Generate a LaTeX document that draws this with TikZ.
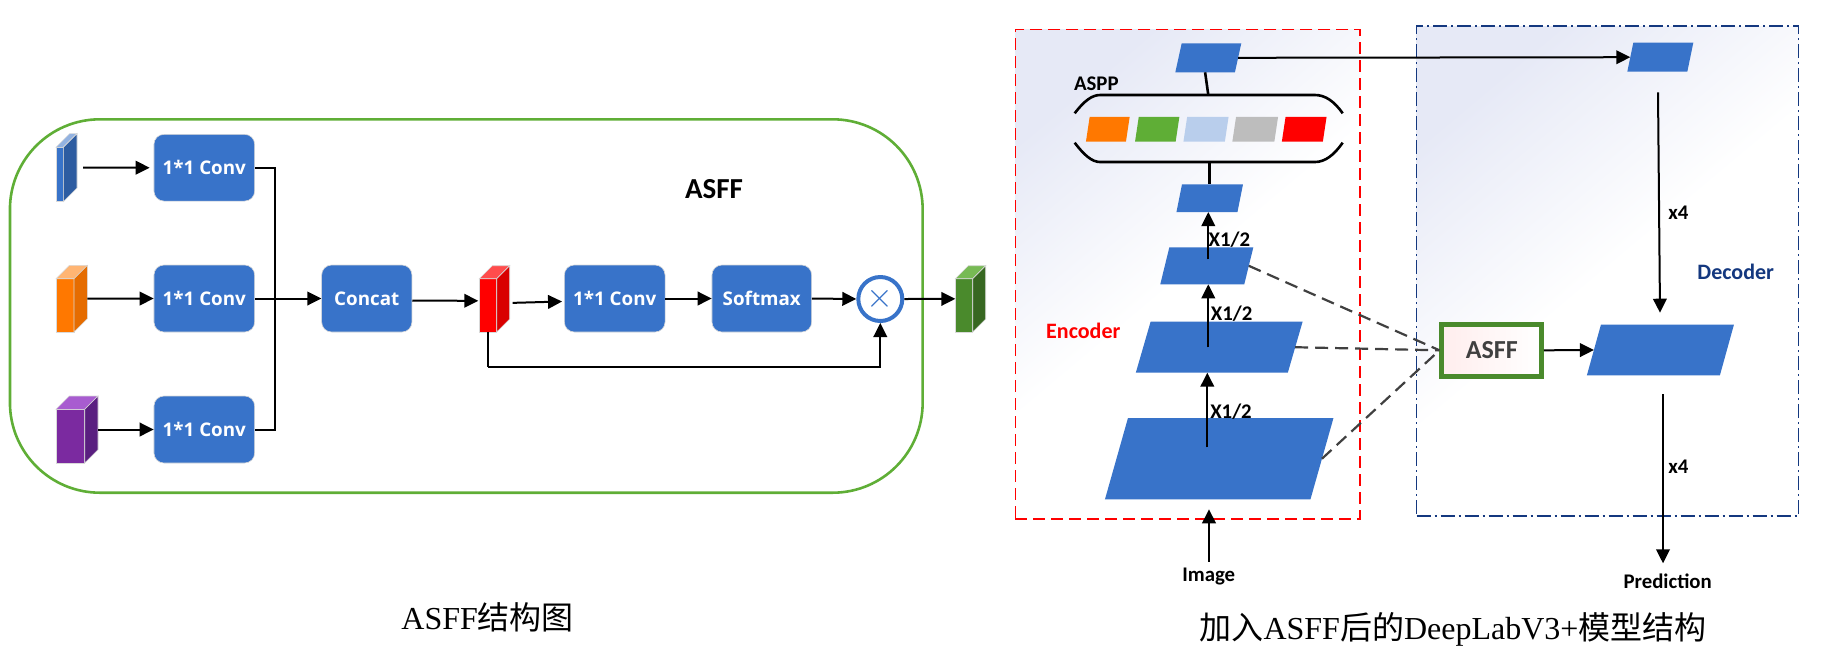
\documentclass[tikz,border=0pt]{standalone}
\usepackage{fontspec}
\setmainfont{Liberation Serif}
\newfontfamily\labelfont{Carlito}
\newfontfamily\boxfont{Open Sans}
\newfontfamily\cjk{Noto Sans CJK SC}
\usetikzlibrary{arrows.meta}

\definecolor{boxblue}{HTML}{3873C9}
\definecolor{framegreen}{HTML}{5FAE36}
\definecolor{asffgreen}{HTML}{4A8A2C}
\definecolor{bgblue}{HTML}{E6E9F6}
\definecolor{decblue}{HTML}{14387F}
\definecolor{aspporange}{HTML}{FF7800}
\definecolor{blockpurple}{HTML}{7B2AA0}
\definecolor{blockpurpletop}{HTML}{A85CD0}
\definecolor{blockpurpleside}{HTML}{5A1F80}

\tikzset{
  >={Triangle[length=7pt,width=6.8pt]},
  size/.style 2 args={minimum width=(#1)*0.5pt, minimum height=(#2)*0.5pt},
  conn/.style={line width=1pt, ->},
  plain/.style={line width=1pt},
  thick line/.style={line width=1.3pt},
  opbox/.style={draw=black!15, line width=0.3pt, fill=boxblue, rounded corners=5pt, text=white, inner sep=0pt, font=\boxfont\bfseries\fontsize{9.4}{11}\selectfont},
  feat/.style={xslant=#1, inner sep=0pt, outer sep=0pt, fill=boxblue},
  tag/.style={font=\labelfont\bfseries\fontsize{10.4}{12}\selectfont},
  dashlink/.style={line width=1.1pt, color=black!75, dash pattern=on 6.5pt off 3.5pt},
  caption/.style={font=\fontsize{16}{19}\selectfont}
}

% block: name, x, y (top of the front face), front w, h, depth, colours
\newcommand{\featblock}[9]{
  \node[size={#4+#6}{#5+#6}, inner sep=0pt, outer sep=0pt] (#1) at ({#2+(#4+#6)/2},{#3-#6+(#5+#6)/2}) {};
  \filldraw[draw=black!15, line width=0.3pt, fill=#7] (#2,#3) rectangle ++(#4,#5);
  \filldraw[draw=black!15, line width=0.3pt, fill=#8] (#2,#3) -- ++(#6,-#6) -- ++(#4,0) -- ++(-#6,#6) -- cycle;
  \filldraw[draw=black!15, line width=0.3pt, fill=#9] (#2+#4,#3) -- ++(#6,-#6) -- ++(0,#5) -- ++(-#6,#6) -- cycle;
}

\begin{document}
\begin{tikzpicture}[x=0.5pt, y=-0.5pt]
\useasboundingbox (0,0) rectangle (1842,666);

% left: ASFF
\node[draw=framegreen, line width=1.3pt, rounded corners=45pt, size={912.7}{373.4}] (frame) at (466.3,306) {};
\node[font=\labelfont\bfseries\fontsize{14.5}{16}\selectfont] (asfftitle) at (714,189) {ASFF};

\featblock{blueblock}{56}{147.3}{7.3}{54.4}{13.7}{boxblue}{boxblue!55}{boxblue!80!black}
\featblock{orangeblock}{56}{278.7}{18}{53.3}{13.3}{aspporange}{aspporange!55}{aspporange!90!black}
\featblock{purpleblock}{56}{409.3}{28.7}{53.7}{13.3}{blockpurple}{blockpurpletop}{blockpurpleside}
\featblock{redblock}{479.3}{278.7}{17.4}{53.3}{13}{red}{red!70}{red!85!black}
\featblock{greenblock}{955.3}{278.7}{17.4}{53.3}{13}{asffgreen}{framegreen!85}{asffgreen!75!black}

\node[opbox, size={100.7}{66.7}] (conva) at (204.3,167.7) {1*1 Conv};
\node[opbox, size={100.7}{67}] (convb) at (204.3,298.5) {1*1 Conv};
\node[opbox, size={100.7}{67}] (convc) at (204.3,429.5) {1*1 Conv};
\node[opbox, size={90.3}{67}] (concat) at (366.8,298.5) {Concat};
\node[opbox, size={100.7}{67}] (convd) at (614.7,298.5) {1*1 Conv};
\node[opbox, size={99.7}{67}] (softmax) at (761.8,298.5) {Softmax};
\node[circle, draw=boxblue, line width=2pt, fill=white, size={44}{44}, inner sep=0pt, text=boxblue] (mult) at (880.3,299) {\fontsize{16}{16}\selectfont$\times$};
\coordinate (merge) at (275,299);
\coordinate (skip) at (488,366.7);

\draw[conn] ([xshift=3pt]blueblock.east) -- ([xshift=-2pt]conva.west);
\draw[conn] (orangeblock.east) -- (convb.west);
\draw[conn] (purpleblock.east) -- (convc.west);
\draw[plain] (conva.east) -| (merge) |- (convc.east);
\draw[conn] (convb.east) -- (concat.west);
\draw[conn] ([yshift=-1pt]concat.east) -- ([yshift=-1pt,xshift=-0.5pt]redblock.west);
\draw[conn] ([xshift=1.5pt,yshift=-2pt]redblock.east) -- ([xshift=-1pt,yshift=-1.5pt]convd.west);
\draw[conn] (convd.east) -- (softmax.west);
\draw[conn] (softmax.east) -- (mult.west);
\draw[conn] (mult.east) -- (greenblock.west);
\draw[plain] (488,332) -- (skip);
\draw[conn] (skip) -| (mult.south);

% right: encoder and decoder panels
\node[draw=red, line width=0.7pt, dash pattern=on 6pt off 3pt, top color=bgblue, bottom color=white, middle color=white, shading angle=40, size={344.7}{489.7}] (encoder) at (1187.7,274.2) {};
\node[draw=decblue, line width=0.7pt, dash pattern=on 7pt off 2pt on 1pt off 2pt, top color=bgblue, bottom color=white, middle color=white, shading angle=40, size={382}{490}] (decoder) at (1607.7,271) {};

\node[feat=0.22, size={59.6}{29}] (enctop) at (1208.3,57.8) {};
\node[feat=0.15, size={40}{24.7}, fill=aspporange] (asppa) at (1107.8,129.3) {};
\node[feat=0.15, size={40.6}{24.7}, fill=framegreen] (asppb) at (1157.2,129.3) {};
\node[feat=0.15, size={41.4}{24.7}, fill=boxblue!35] (asppc) at (1206,129.3) {};
\node[feat=0.15, size={42}{24.7}, fill=black!26] (asppd) at (1255.2,129.3) {};
\node[feat=0.15, size={41}{24.7}, fill=red] (asppe) at (1304.2,129.3) {};
\node[feat=0.2, size={61}{27.7}] (enca) at (1209.7,198.2) {};
\node[feat=0.245, size={84}{37}] (encb) at (1206.8,265.8) {};
\node[feat=0.29, size={152}{51}] (encc) at (1219.2,347.2) {};
\node[feat=0.283, size={205.5}{81.3}] (encd) at (1219.2,458.7) {};
\node[feat=0.207, size={60}{29}] (dectop) at (1660.3,57.2) {};
\node[feat=0.277, size={133}{50.6}] (decout) at (1660.4,350) {};
\node[draw=asffgreen, line width=2.5pt, left color=red!7, right color=white, size={99.5}{51.5}, inner sep=0pt, text=black!75, font=\labelfont\bfseries\fontsize{13}{15}\selectfont] (asffbox) at (1491.7,350.3) {ASFF};

% aspp bracket
\draw[thick line] (1074.7,113.3) .. controls (1084,101) and (1092,95) .. (1100,95) -- (1315,95) .. controls (1325,95) and (1334,101) .. (1342.7,113.3);
\draw[thick line] (1074.7,142.7) .. controls (1084,155) and (1092,162) .. (1100,162) -- (1315,162) .. controls (1325,162) and (1334,155) .. (1342.7,142.7);
\coordinate (asppup) at (1208.3,95);
\coordinate (asppdown) at (1209.3,162);
\draw[thick line] (enctop.south) -- (asppup);
\draw[thick line] (asppdown) -- (asppdown |- enca.north);

\coordinate (inb) at (1208.3,259.3);
\coordinate (inc) at (1208.3,347.3);
\coordinate (ind) at (1207.3,447.3);
\draw[conn] (inb) -- (inb |- enca.south);
\draw[conn] (inc) -- (inc |- encb.south);
\draw[conn] (ind) -- (ind |- encc.south);

\node[tag] (aspplabel) at (1096.3,83.3) {ASPP};
\node[tag] (xa) at (1229.3,240) {X1/2};
\node[tag] (xb) at (1231.7,314) {X1/2};
\node[tag] (xc) at (1231,411.7) {X1/2};
\node[tag] (image) at (1208.7,577) {Image};
\node[tag] (prediction) at (1667.7,581.7) {Prediction};
\node[tag] (upa) at (1678.3,212.3) {x4};
\node[tag] (upb) at (1678.3,467) {x4};
\node[font=\labelfont\bfseries\fontsize{11}{13}\selectfont, text=red] (enclabel) at (1083.3,330.7) {Encoder};
\node[font=\labelfont\bfseries\fontsize{11}{13}\selectfont, text=decblue] (declabel) at (1735.7,271.7) {Decoder};

\coordinate (imgtail) at (1209,561.7);
\coordinate (imghead) at (1209,509.3);
\coordinate (upatail) at (1658,92.3);
\coordinate (upahead) at (1660,312.7);
\coordinate (upbtail) at (1663,394.3);
\coordinate (upbhead) at (1663,563.3);
\draw[conn] (imgtail) -- (imghead);
\draw[conn] (enctop.east) -- (dectop.west);
\draw[conn] (upatail) -- (upahead);
\draw[conn] (upbtail) -- (upbhead);
\draw[conn] (asffbox.east) -- (decout.west);
\draw[dashlink] (encb.east) -- (asffbox.west);
\draw[dashlink] (encc.east) -- (asffbox.west);
\draw[dashlink] (encd.east) -- (asffbox.west);

% captions
\node[caption] (capleft) at (487.7,617) {ASFF{\cjk 结构图}};
\node[caption] (capright) at (1453,629) {{\cjk 加入}ASFF{\cjk 后的}DeepLabV3+{\cjk 模型结构}};
\end{tikzpicture}
\end{document}
